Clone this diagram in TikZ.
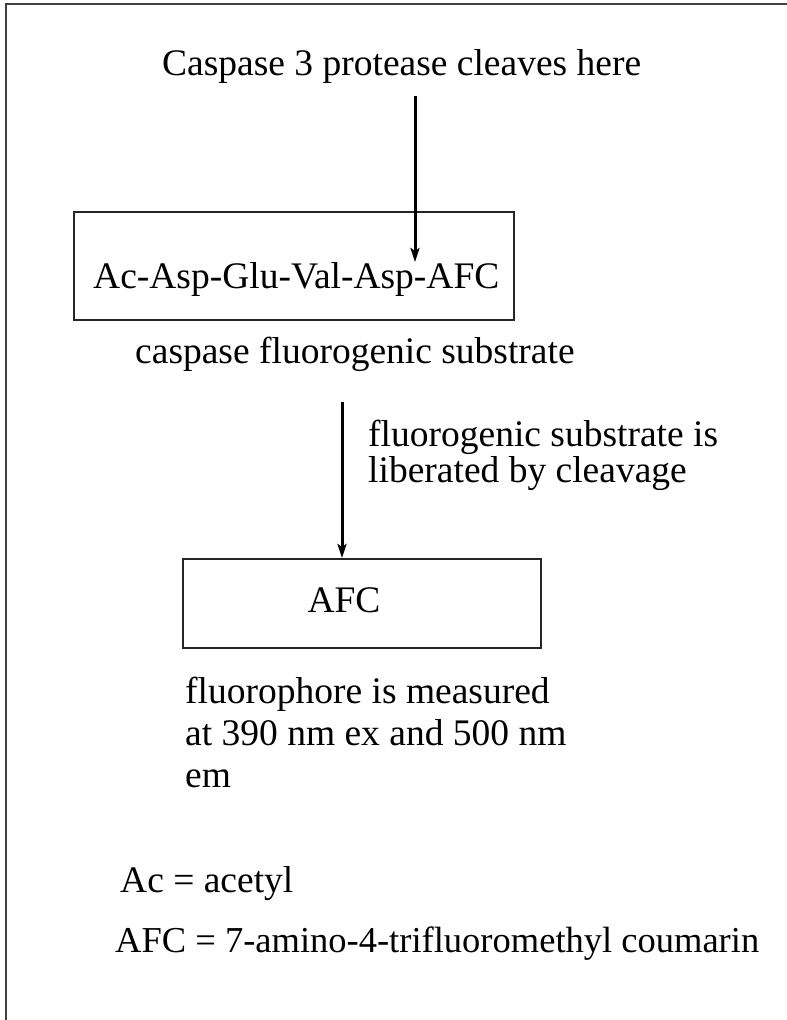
\documentclass[tikz,border=0pt]{standalone}
\usepackage{fontspec}
\setmainfont{Liberation Serif}
\usetikzlibrary{arrows.meta}
\begin{document}
\begin{tikzpicture}[x=1pt,y=-1pt,
  txt/.style={inner sep=0pt,font=\fontsize{37.5}{32}\selectfont,align=left},
  frameline/.style={draw=black!75,line width=2pt},
  boxline/.style={draw=black!85,line width=2pt},
  arr/.style={line width=3pt,-{Stealth[length=14pt,width=9pt,inset=3pt]}}]
\useasboundingbox[fill=white] (0,0) rectangle (787,1020);
\draw[frameline] (6,1020) -- (6,4) -- (787,4);
% title and first arrow
\node[txt,anchor=base west] (title) at (162,75) {Caspase 3 protease cleaves here};
\coordinate (a1s) at (415,96);
\coordinate (a1e) at (415,262);
% substrate box
\node[boxline,minimum width=440pt,minimum height=108pt,anchor=north west,inner sep=0pt] (sub) at (73,211) {};
\node[txt,anchor=base west] (subtxt) at (93,288) {Ac-Asp-Glu-Val-Asp-AFC};
\draw[arr] (a1s) -- (a1e);
\node[txt,anchor=base west] (sublab) at (135,363) {caspase fluorogenic substrate};
% second arrow
\coordinate (a2s) at (342,402);
\node[boxline,minimum width=358pt,minimum height=89pt,anchor=north west,inner sep=0pt] (afc) at (182,558) {};
\node[txt,anchor=base] (afctxt) at (344,612) {AFC};
\draw[arr] (a2s) -- (a2s |- afc.north);
\node[txt,anchor=base west] (lib) at (368,482) {fluorogenic substrate is\\liberated by cleavage};
\node[txt,anchor=base west,font=\fontsize{37.5}{42}\selectfont] (meas) at (185,787) {fluorophore is measured\\at 390 nm ex and 500 nm\\em};
\node[txt,anchor=base west] (ac) at (120,892) {Ac = acetyl};
\node[txt,anchor=base west,font=\fontsize{36.5}{40}\selectfont] (afcdef) at (115,952) {AFC = 7-amino-4-trifluoromethyl coumarin};
\end{tikzpicture}
\end{document}
